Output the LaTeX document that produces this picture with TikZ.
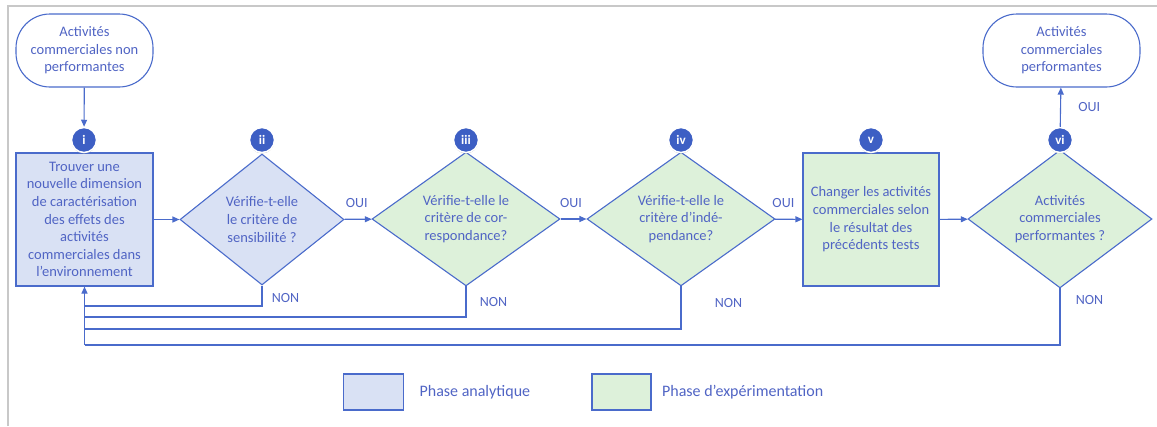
\documentclass[tikz,border=0pt]{standalone}
\usepackage{fontspec}
\setmainfont{Carlito}
\usetikzlibrary{shapes.geometric,arrows.meta,shadows}
\definecolor{flowblue}{HTML}{4A6BCB}
\definecolor{flowtext}{HTML}{5064C4}
\definecolor{analytic}{HTML}{D9E1F4}
\definecolor{experim}{HTML}{DDF1DA}
\definecolor{badgeblue}{HTML}{3D5FC4}
\definecolor{framegray}{HTML}{C8C8C8}
\tikzset{
  flow/.style={draw=flowblue, line width=1.1pt},
  txt/.style={text=flowtext, font=\fontsize{14.5}{17.6}\selectfont, align=center},
  terminal/.style={flow, txt, fill=white, rectangle, rounded corners=34pt, inner sep=0pt},
  stepbox/.style={flow, txt, rectangle, inner sep=0pt, minimum width=137pt, minimum height=133pt},
  test/.style={flow, txt, diamond, inner sep=0pt, minimum height=131pt},
  badge/.style={circle, fill=badgeblue, draw=white, line width=1.5pt, minimum size=25pt,
    inner sep=0pt, text=white, font=\bfseries\fontsize{13}{13}\selectfont,
    drop shadow={opacity=0.45, shadow xshift=0pt, shadow yshift=-1pt}},
  lbl/.style={text=flowtext, font=\fontsize{14}{14}\selectfont},
  legendbox/.style={flow, rectangle, minimum width=60pt, minimum height=36pt},
  link/.style={flow, -{Triangle[length=7pt,width=6pt]}}
}
\begin{document}
\begin{tikzpicture}[x=1pt, y=-1pt]
      \useasboundingbox (0,0) rectangle (1157,426);
      \draw[framegray, line width=1.5pt] (8,426) -- (8,6) -- (1157,6);
      \draw
        (84.5,50.5) node[terminal, minimum width=137pt, minimum height=73pt] (start){Activités\\commerciales non\\performantes}
        (84.5,219.5) node[stepbox, fill=analytic] (box1){Trouver une\\nouvelle dimension\\de caractérisation\\des effets des\\activités\\commerciales dans\\l’environnement}
        (262,219.5) node[test, fill=analytic, minimum width=164pt] (d2){Vérifie-t-elle\\le critère de\\sensibilité ?}
        (466,219) node[test, fill=experim, minimum width=188pt] (d3){Vérifie-t-elle le\\critère de cor-\\respondance?}
        (681,219) node[test, fill=experim, minimum width=188pt] (d4){Vérifie-t-elle le\\critère d’indé-\\pendance?}
        (871,219.5) node[stepbox, fill=experim, minimum width=136pt] (box5){Changer les activités\\commerciales selon\\le résultat des\\précédents tests}
        (1060,219) node[test, fill=experim, minimum width=184pt] (d6){Activités\\commerciales\\performantes ?}
        (1061.5,50.5) node[terminal, minimum width=157pt, minimum height=73pt] (end){Activités\\commerciales\\performantes};
      \draw
        (84,140) node[badge] (b1){i}
        (262,140) node[badge] (b2){ii}
        (466,140) node[badge] (b3){iii}
        (681,140) node[badge] (b4){iv}
        (871,140) node[badge] (b5){v}
        (1060,140) node[badge] (b6){vi};
      \coordinate (r2) at (box1.south |- 0,306);
      \coordinate (r3) at (box1.south |- 0,317);
      \coordinate (r4) at (box1.south |- 0,329);
      \coordinate (r6) at (box1.south |- 0,345);
      \begin{scope}[link]
        \draw (start) -- (b1);
        \draw (box1) -- (d2);
        \draw (d2) -- node[lbl, above=8pt, pos=0.45]{OUI} (d3);
        \draw (d3) -- node[lbl, above=8pt, pos=0.4]{OUI} (d4);
        \draw (d4) -- node[lbl, above=8pt, pos=0.3]{OUI} (box5);
        \draw (box5) -- (d6);
        \draw (b6) -- node[lbl, right=14pt]{OUI} (end);
        \draw (r6) -- (box1);
      \end{scope}
      \begin{scope}[flow]
        \draw (d2.south) |- node[lbl, pos=0.3, right=6pt]{NON} (r2);
        \draw (d3.south) |- node[lbl, pos=0.25, right=10pt]{NON} (r3);
        \draw (d4.south) |- node[lbl, pos=0.2, right=30pt]{NON} (r4);
        \draw (d6.south) |- node[lbl, pos=0.1, right=12pt]{NON} (r6);
      \end{scope}
      \draw
        (373.5,392) node[legendbox, fill=analytic] (leg1){}
        (621.5,392) node[legendbox, fill=experim, minimum width=59pt] (leg2){}
        (leg1.east) ++(12,0) node[lbl, anchor=west, font=\fontsize{16}{16}\selectfont] (leg1txt){Phase analytique}
        (leg2.east) ++(7,0) node[lbl, anchor=west, font=\fontsize{16}{16}\selectfont] (leg2txt){Phase d’expérimentation};
    \end{tikzpicture}
\end{document}
